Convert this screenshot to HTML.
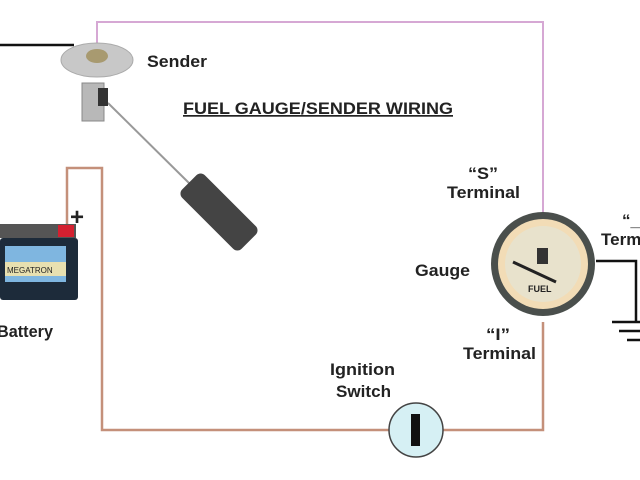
<!DOCTYPE html>
<html><head><meta charset="utf-8"><style>
html,body{margin:0;padding:0;background:#fff}
svg{display:block}
text{font-family:"Liberation Sans",sans-serif;font-weight:bold;fill:#222}
</style></head><body>
<svg width="640" height="480" viewBox="0 0 640 480" xmlns="http://www.w3.org/2000/svg">
<rect width="640" height="480" fill="#fff"/>
<!-- wires -->
<polyline points="0,45 74,45" fill="none" stroke="#111" stroke-width="2.5"/>
<polyline points="97,50 97,22 543,22 543,214" fill="none" stroke="#d6a8d4" stroke-width="2"/>
<polyline points="67,232 67,168 102,168 102,430 543,430 543,322" fill="none" stroke="#c4907a" stroke-width="2.5"/>
<polyline points="596,261 636,261 636,322" fill="none" stroke="#111" stroke-width="2.5"/>
<line x1="612" y1="322" x2="640" y2="322" stroke="#111" stroke-width="2.5"/>
<line x1="619" y1="331" x2="640" y2="331" stroke="#111" stroke-width="2.5"/>
<line x1="627" y1="340" x2="640" y2="340" stroke="#111" stroke-width="2.5"/>
<!-- sender -->
<line x1="108" y1="103" x2="192" y2="186" stroke="#999" stroke-width="2"/>
<rect x="82" y="83" width="22" height="38" fill="#b8b8b8" stroke="#888"/>
<rect x="98" y="88" width="10" height="18" fill="#333"/>
<ellipse cx="97" cy="60" rx="36" ry="17" fill="#c8c8c8" stroke="#aaa"/>
<ellipse cx="97" cy="56" rx="11" ry="7" fill="#a89a70"/>
<g transform="translate(219,212) rotate(45)">
<rect x="-42" y="-16" width="84" height="32" rx="6" fill="#444"/>
</g>
<!-- battery -->
<rect x="0" y="224" width="76" height="14" fill="#555"/>
<rect x="58" y="225" width="16" height="12" fill="#d42030"/>
<rect x="0" y="238" width="78" height="62" rx="3" fill="#1d2b3a"/>
<rect x="5" y="246" width="61" height="36" fill="#7fb6e0"/>
<rect x="5" y="262" width="61" height="14" fill="#e8e0b0"/>
<text x="7" y="273" font-size="8" style="font-weight:normal" fill="#333">MEGATRON</text>
<text x="70" y="225" font-size="24">+</text>
<!-- gauge -->
<circle cx="543" cy="264" r="52" fill="#4a4f4c"/>
<circle cx="543" cy="264" r="45" fill="#f2dcb6"/>
<circle cx="543" cy="264" r="38" fill="#e8e2cc"/>
<line x1="513" y1="262" x2="556" y2="282" stroke="#222" stroke-width="3"/>
<rect x="537" y="248" width="11" height="16" fill="#333"/>
<text x="528" y="292" font-size="9" fill="#554">FUEL</text>
<!-- switch -->
<circle cx="416" cy="430" r="27" fill="#d6f0f4" stroke="#444" stroke-width="1.5"/>
<rect x="411" y="414" width="9" height="32" fill="#111"/>
<!-- labels -->
<text x="147" y="67" font-size="17" textLength="60" lengthAdjust="spacingAndGlyphs">Sender</text>
<text x="183" y="114" font-size="17" text-decoration="underline" textLength="270" lengthAdjust="spacingAndGlyphs">FUEL GAUGE/SENDER WIRING</text>
<text x="468" y="179" font-size="17" textLength="30" lengthAdjust="spacingAndGlyphs">“S”</text>
<text x="447" y="198" font-size="17" textLength="73" lengthAdjust="spacingAndGlyphs">Terminal</text>
<text x="415" y="276" font-size="17" textLength="55" lengthAdjust="spacingAndGlyphs">Gauge</text>
<text x="486" y="340" font-size="17" textLength="24" lengthAdjust="spacingAndGlyphs">“I”</text>
<text x="463" y="359" font-size="17" textLength="73" lengthAdjust="spacingAndGlyphs">Terminal</text>
<text x="330" y="375" font-size="17" textLength="65" lengthAdjust="spacingAndGlyphs">Ignition</text>
<text x="336" y="397" font-size="17" textLength="55" lengthAdjust="spacingAndGlyphs">Switch</text>
<text x="-3" y="337" font-size="17" textLength="56" lengthAdjust="spacingAndGlyphs">Battery</text>
<text x="622" y="226" font-size="17">“_</text>
<text x="601" y="245" font-size="17">Term</text>
</svg>
</body></html>
